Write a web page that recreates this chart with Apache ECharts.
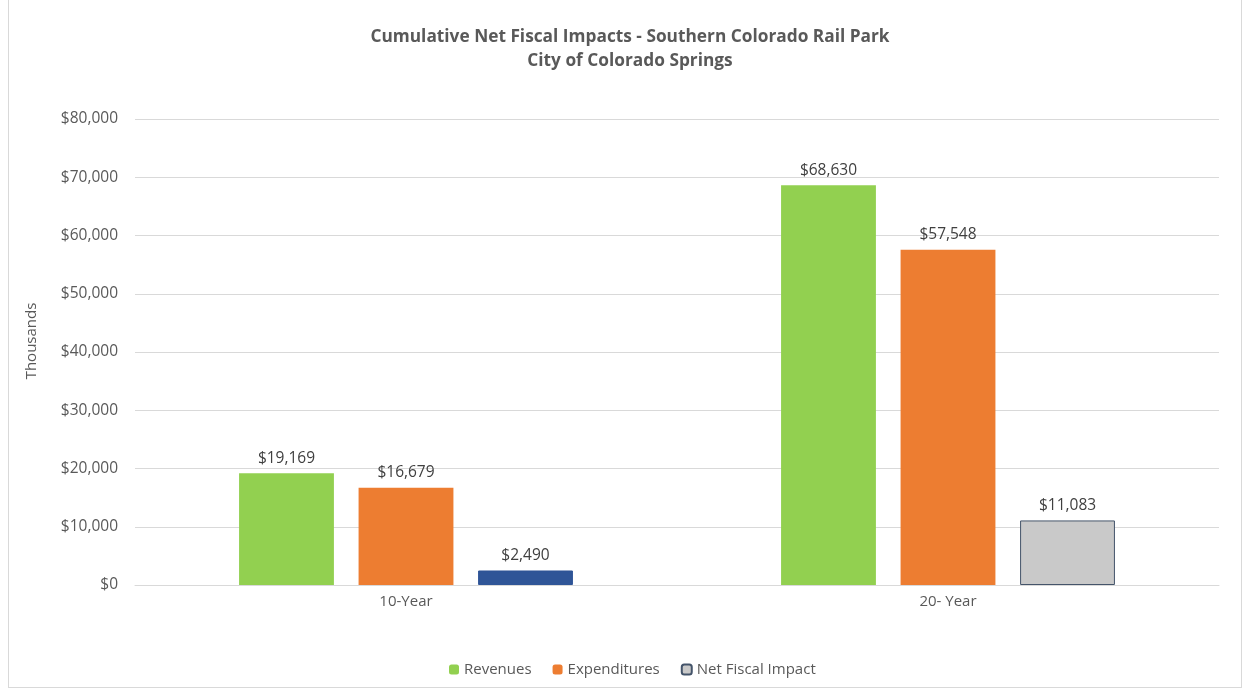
<!DOCTYPE html>
<html>
<head>
<meta charset="utf-8">
<script src="https://cdn.jsdelivr.net/npm/echarts@6/dist/echarts.min.js"></script>
<style>
html,body{margin:0;padding:0;background:#fff;}
#wrap{position:absolute;left:8px;top:0;width:1234px;height:688px;border:1px solid #d9d9d9;border-top:none;box-sizing:border-box;}
#c{position:absolute;left:0;top:0;width:1243px;height:690px;}
</style>
</head>
<body>
<div id="wrap"></div>
<div id="c"></div>
<script>
const categories = ['10-Year', '20- Year'];
const revenues = [19169, 68630];
const expenditures = [16679, 57548];
const netImpact = [2490, 11083];
const yTicks = [0, 10000, 20000, 30000, 40000, 50000, 60000, 70000, 80000];

const font = '"Open Sans", "Liberation Sans", sans-serif';
const fmt = v => '$' + Number(v).toLocaleString('en-US');
const chart = echarts.init(document.getElementById('c'));
const lbl = {show: true, position: 'top', distance: 7, color: '#404040', fontSize: 15.5, fontFamily: font, formatter: p => fmt(p.value)};
chart.setOption({
  animation: false,
  title: {
    text: 'Cumulative Net Fiscal Impacts - Southern Colorado Rail Park\nCity of Colorado Springs',
    left: 625, top: 20, textAlign: 'center',
    textStyle: {fontSize: 17.3, fontWeight: 'bold', color: '#595959', fontFamily: font, lineHeight: 24}
  },
  legend: {
    bottom: 8, left: 444, itemWidth: 10, itemHeight: 10, itemGap: 21,
    textStyle: {fontSize: 15, color: '#595959', fontFamily: font},
    data: ['Revenues', 'Expenditures', 'Net Fiscal Impact']
  },
  grid: {left: 135, right: 24, top: 119, bottom: 105},
  xAxis: {
    type: 'category', data: categories,
    axisLine: {lineStyle: {color: '#d9d9d9'}},
    axisTick: {show: false},
    axisLabel: {color: '#595959', fontSize: 15, fontFamily: font, margin: 9}
  },
  yAxis: {
    type: 'value', min: yTicks[0], max: yTicks[yTicks.length - 1], interval: 10000,
    name: 'Thousands', nameLocation: 'middle', nameGap: 96,
    nameTextStyle: {color: '#595959', fontSize: 15, fontFamily: font, padding: [0, 0, 0, 22]},
    axisLine: {show: false}, axisTick: {show: false},
    splitLine: {lineStyle: {color: '#d9d9d9'}},
    axisLabel: {color: '#595959', fontSize: 15.5, fontFamily: font, margin: 17, formatter: fmt}
  },
  series: [
    {name: 'Revenues', type: 'bar', data: revenues, barWidth: '17.5%', barGap: '26%',
     itemStyle: {color: '#92D050'}, label: lbl},
    {name: 'Expenditures', type: 'bar', data: expenditures, barWidth: '17.5%', barGap: '26%',
     itemStyle: {color: '#ED7D31'}, label: lbl},
    {name: 'Net Fiscal Impact', type: 'bar', barWidth: '17.5%', barGap: '26%',
     data: netImpact.map((v, i) => i === 0
       ? {value: v, itemStyle: {color: '#2F5597', borderColor: '#2F5597', borderWidth: 1}}
       : {value: v}),
     itemStyle: {color: '#C9C9C9', borderColor: '#44546A', borderWidth: 1}, label: lbl}
  ]
});
</script>
</body>
</html>
